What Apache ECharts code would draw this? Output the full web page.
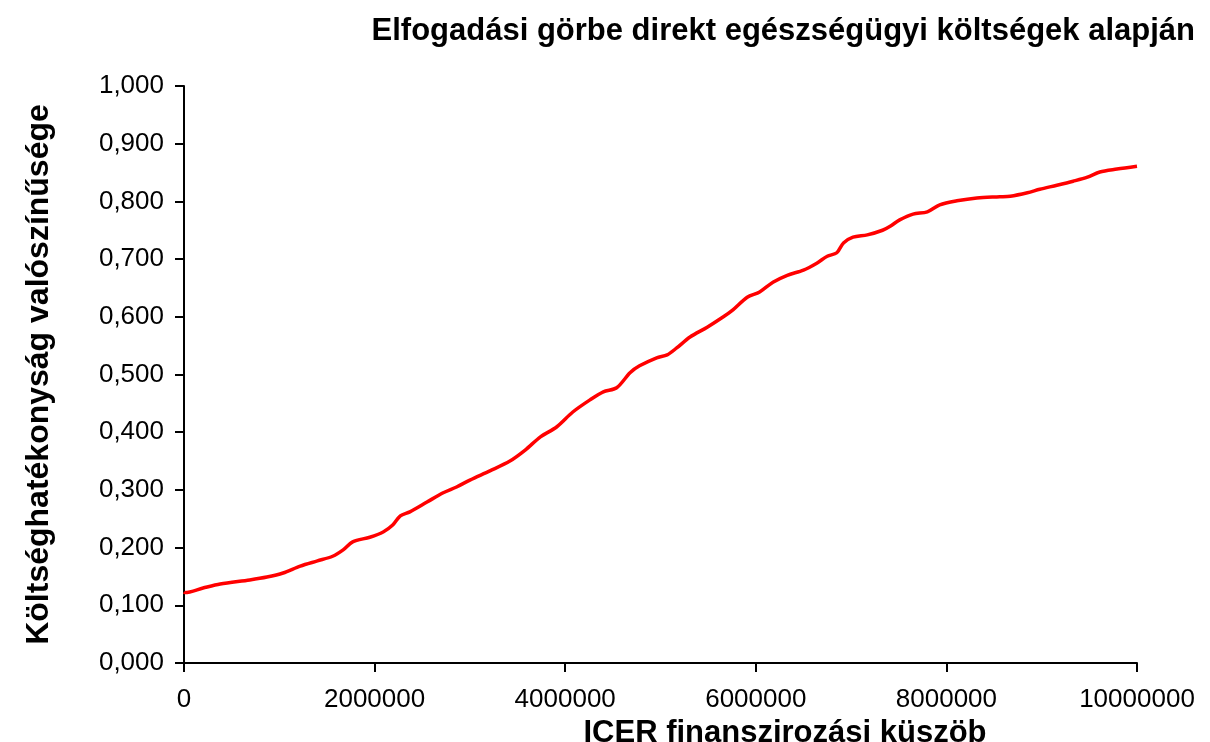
<!DOCTYPE html>
<html>
<head>
<meta charset="utf-8">
<script src="https://cdn.jsdelivr.net/npm/echarts@6/dist/echarts.min.js"></script>
<style>
  html, body { margin: 0; padding: 0; background: #fff; }
  #chart { width: 1210px; height: 742px; }
</style>
</head>
<body>
<div id="chart"></div>
<script>
// ICER küszöb (Ft)
var thresholds = [0, 10000, 200000, 380000, 690000, 870000, 1040000, 1220000, 1400000, 1560000,
  1670000, 1770000, 1950000, 2090000, 2190000, 2270000, 2370000, 2550000, 2720000, 2860000,
  3000000, 3210000, 3420000, 3580000, 3740000, 3910000, 4080000, 4260000, 4400000, 4540000,
  4680000, 4780000, 4960000, 5070000, 5170000, 5310000, 5490000, 5660000, 5760000, 5910000,
  6040000, 6180000, 6330000, 6500000, 6640000, 6750000, 6850000, 6920000, 7020000, 7170000,
  7330000, 7410000, 7510000, 7650000, 7800000, 7930000, 8110000, 8320000, 8560000, 8670000,
  8850000, 8980000, 9160000, 9330000, 9480000, 9610000, 9790000, 10000000];
// költséghatékonyság valószínűsége
var probability = [0.123, 0.122, 0.130, 0.137, 0.144, 0.149, 0.156, 0.168, 0.177, 0.185,
  0.196, 0.210, 0.218, 0.227, 0.239, 0.255, 0.262, 0.279, 0.295, 0.305,
  0.317, 0.333, 0.350, 0.369, 0.392, 0.409, 0.435, 0.456, 0.470, 0.477,
  0.503, 0.515, 0.529, 0.534, 0.546, 0.565, 0.582, 0.600, 0.612, 0.634,
  0.643, 0.660, 0.672, 0.681, 0.693, 0.705, 0.711, 0.728, 0.738, 0.742,
  0.750, 0.757, 0.768, 0.778, 0.782, 0.794, 0.801, 0.806, 0.808, 0.809,
  0.815, 0.821, 0.828, 0.835, 0.842, 0.851, 0.856, 0.861];
var xTicks = [0, 2000000, 4000000, 6000000, 8000000, 10000000];

var chart = echarts.init(document.getElementById('chart'));

var points = [];
for (var i = 0; i < thresholds.length; i++) {
  points.push([thresholds[i], probability[i]]);
}

chart.setOption({
  backgroundColor: '#fff',
  animation: false,
  textStyle: { fontFamily: 'Liberation Sans, Arial, sans-serif', color: '#000' },
  title: {
    text: 'Elfogadási görbe direkt egészségügyi költségek alapján',
    right: 10,
    top: 11,
    textStyle: { fontSize: 31, fontWeight: 'bold', color: '#000' }
  },
  grid: { left: 184, right: 73, top: 86, bottom: 79, containLabel: false, outerBoundsMode: 'none' },
  xAxis: {
    type: 'value',
    min: 0,
    max: 10000000,
    interval: 2000000,
    name: 'ICER finanszirozási küszöb',
    nameLocation: 'middle',
    nameGap: 42,
    nameTextStyle: { fontSize: 31, fontWeight: 'bold', color: '#000', padding: [0, 0, 0, 249] },
    axisLine: { lineStyle: { color: '#000', width: 2 } },
    axisTick: { length: 9, lineStyle: { color: '#000', width: 2 } },
    axisLabel: {
      fontSize: 26, color: '#000', margin: 24,
      formatter: function (v) { return xTicks.indexOf(v) >= 0 ? String(v) : ''; }
    },
    splitLine: { show: false }
  },
  yAxis: {
    type: 'value',
    min: 0,
    max: 1,
    interval: 0.1,
    name: 'Költséghatékonyság valószínűsége',
    nameLocation: 'middle',
    nameGap: 129,
    nameTextStyle: { fontSize: 32, fontWeight: 'bold', color: '#000' },
    axisLine: { show: true, lineStyle: { color: '#000', width: 2 } },
    axisTick: { show: true, length: 9, lineStyle: { color: '#000', width: 2 } },
    axisLabel: {
      fontSize: 26, color: '#000', margin: 20,
      formatter: function (v) { return v.toFixed(3).replace('.', ','); }
    },
    splitLine: { show: false }
  },
  series: [{
    type: 'line',
    data: points,
    smooth: 0.3,
    showSymbol: false,
    lineStyle: { color: '#ff0000', width: 3.5 }
  }]
});
</script>
</body>
</html>
